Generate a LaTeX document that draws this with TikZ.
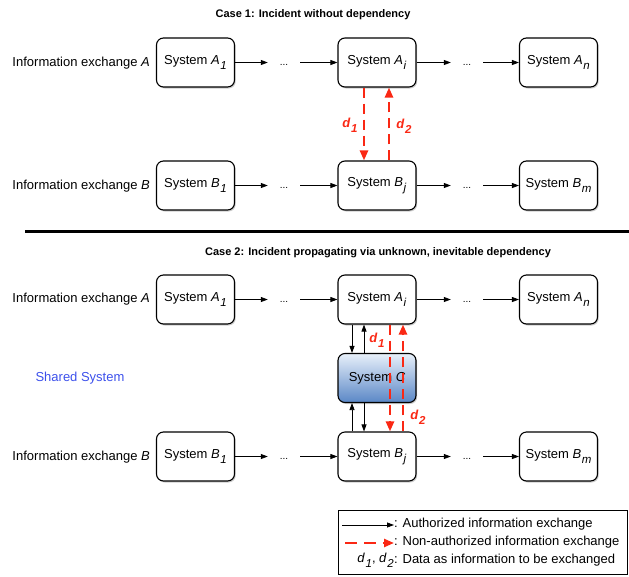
\documentclass[tikz,border=0pt]{standalone}
\usepackage{fontspec}
\setmainfont{Liberation Sans}
\usetikzlibrary{arrows.meta,shadows}
\definecolor{incred}{RGB}{250,40,20}
\definecolor{shblue}{RGB}{60,80,235}
\definecolor{ctop}{RGB}{232,240,250}
\definecolor{cbot}{RGB}{90,135,198}
\newcommand{\sysub}[2]{\textit{#1}\kern0.6pt\raisebox{-0.75ex}{\fontsize{11.5}{11.5}\selectfont\textit{#2}}}
\newcommand{\dsub}[1]{\textbf{\textit{d}}\kern0.6pt\raisebox{-0.7ex}{\fontsize{11.5}{11.5}\selectfont\bfseries\itshape #1}}
\begin{document}
\begin{tikzpicture}[x=1pt,y=-1pt,
  every node/.style={font=\fontsize{13}{15}\selectfont},
  sysbox/.style={draw, line width=1.1pt, rounded corners=7pt, minimum width=78pt,
    minimum height=49pt, inner sep=0pt, fill=white,
    drop shadow={shadow xshift=1.2pt, shadow yshift=-1.5pt, opacity=0.4}},
  cbox/.style={sysbox, top color=ctop, bottom color=cbot},
  dotsnode/.style={inner sep=0pt, minimum width=32pt, text height=7pt, text depth=2pt,
    font=\fontsize{10}{10}\selectfont},
  exlabel/.style={anchor=east, inner sep=0pt},
  title/.style={font=\fontsize{11}{13}\selectfont\bfseries},
  auth/.style={-{Triangle[length=7pt,width=5pt]}, line width=0.8pt},
  unauth/.style={incred, line width=2.4pt, dash pattern=on 10pt off 6pt,
    -{Triangle[length=10pt,width=8pt]}},
  dlabel/.style={text=incred, inner sep=0pt},
]
\useasboundingbox (0,0) rectangle (629,576);

% ---------- Case 1 ----------
\node[title] (t1) at (313,15) {Case 1: Incident without dependency};
\node[exlabel] (lA1) at (150,63) {Information exchange \textit{A}};
\node[exlabel] (lB1) at (150,186) {Information exchange \textit{B}};

\node[sysbox] (a1) at (195.5,62.5) {System \sysub{A}{1}};
\node[sysbox] (ai) at (377,62.5) {System \sysub{A}{i}};
\node[sysbox] (an) at (558.5,62.5) {System \sysub{A}{n}};
\node[dotsnode] (da1) at (284,62.5) {...};
\node[dotsnode] (da2) at (467,62.5) {...};
\draw[auth] (a1) -- (da1);
\draw[auth] (da1) -- (ai);
\draw[auth] (ai) -- (da2);
\draw[auth] (da2) -- (an);

\node[sysbox] (b1) at (195.5,185.5) {System \sysub{B}{1}};
\node[sysbox] (bj) at (377,185.5) {System \sysub{B}{j}};
\node[sysbox] (bm) at (558.5,185.5) {System \sysub{B}{m}};
\node[dotsnode] (db1) at (284,185.5) {...};
\node[dotsnode] (db2) at (467,185.5) {...};
\draw[auth] (b1) -- (db1);
\draw[auth] (db1) -- (bj);
\draw[auth] (bj) -- (db2);
\draw[auth] (db2) -- (bm);

\draw[unauth] ([xshift=-13pt]ai.south) -- ([xshift=-13pt]bj.north);
\draw[unauth] ([xshift=12pt]bj.north) -- ([xshift=12pt]ai.south);
\node[dlabel] (d1a) at (350,125) {\dsub{1}};
\node[dlabel] (d2a) at (404,126) {\dsub{2}};

% ---------- separator ----------
\coordinate (sepL) at (25,231);
\coordinate (sepR) at (629,231);
\draw[line width=3pt] (sepL) -- (sepR);

% ---------- Case 2 ----------
\node[title] (t2) at (378,253) {Case 2: Incident propagating via unknown, inevitable dependency};
\node[exlabel] (lA2) at (150,299) {Information exchange \textit{A}};
\node[exlabel] (lB2) at (150,457) {Information exchange \textit{B}};
\node[text=shblue] (shared) at (80,378) {Shared System};

\node[sysbox] (ca1) at (195.5,299.5) {System \sysub{A}{1}};
\node[sysbox] (cai) at (377,299.5) {System \sysub{A}{i}};
\node[sysbox] (can) at (558.5,299.5) {System \sysub{A}{n}};
\node[dotsnode] (cda1) at (284,299.5) {...};
\node[dotsnode] (cda2) at (467,299.5) {...};
\draw[auth] (ca1) -- (cda1);
\draw[auth] (cda1) -- (cai);
\draw[auth] (cai) -- (cda2);
\draw[auth] (cda2) -- (can);

\node[cbox] (sc) at (377,378) {System \textit{C}};

\node[sysbox] (cb1) at (195.5,456.5) {System \sysub{B}{1}};
\node[sysbox] (cbj) at (377,456.5) {System \sysub{B}{j}};
\node[sysbox] (cbm) at (558.5,456.5) {System \sysub{B}{m}};
\node[dotsnode] (cdb1) at (284,456.5) {...};
\node[dotsnode] (cdb2) at (467,456.5) {...};
\draw[auth] (cb1) -- (cdb1);
\draw[auth] (cdb1) -- (cbj);
\draw[auth] (cbj) -- (cdb2);
\draw[auth] (cdb2) -- (cbm);

\draw[auth] ([xshift=-25pt]cai.south) -- ([xshift=-25pt]sc.north);
\draw[auth] ([xshift=-13pt]sc.north) -- ([xshift=-13pt]cai.south);
\draw[auth] ([xshift=-25pt]cbj.north) -- ([xshift=-25pt]sc.south);
\draw[auth] ([xshift=-13pt]sc.south) -- ([xshift=-13pt]cbj.north);

\draw[unauth] ([xshift=13pt]cai.south) -- ([xshift=13pt]cbj.north);
\draw[unauth] ([xshift=26pt]cbj.north) -- ([xshift=26pt]cai.south);
\node[dlabel] (d1b) at (377,340) {\dsub{1}};
\node[dlabel] (d2b) at (418,417) {\dsub{2}};

% ---------- legend ----------
\node[draw, line width=0.9pt, fill=white, minimum width=289pt, minimum height=64pt,
  inner sep=0pt, drop shadow={shadow xshift=1pt, shadow yshift=-1pt, opacity=0.3}]
  (legend) at (482.5,542) {};
\coordinate (l1s) at (342,525);
\coordinate (l1e) at (394,525);
\coordinate (l2s) at (345,543);
\coordinate (l2e) at (394,543);
\draw[auth] (l1s) -- (l1e);
\draw[unauth, dash pattern=on 12pt off 7pt] (l2s) -- (l2e);
\node[anchor=west, inner sep=0pt] (lt1) at (394,524) {: Authorized information exchange};
\node[anchor=west, inner sep=0pt] (lt2) at (394,542) {: Non-authorized information exchange};
\node[anchor=west, inner sep=0pt] (lt3) at (394,560) {: Data as information to be exchanged};
\node[anchor=east, inner sep=0pt] (lt3d) at (lt3.west) {\sysub{d}{1}, \sysub{d}{2}};
\end{tikzpicture}
\end{document}
